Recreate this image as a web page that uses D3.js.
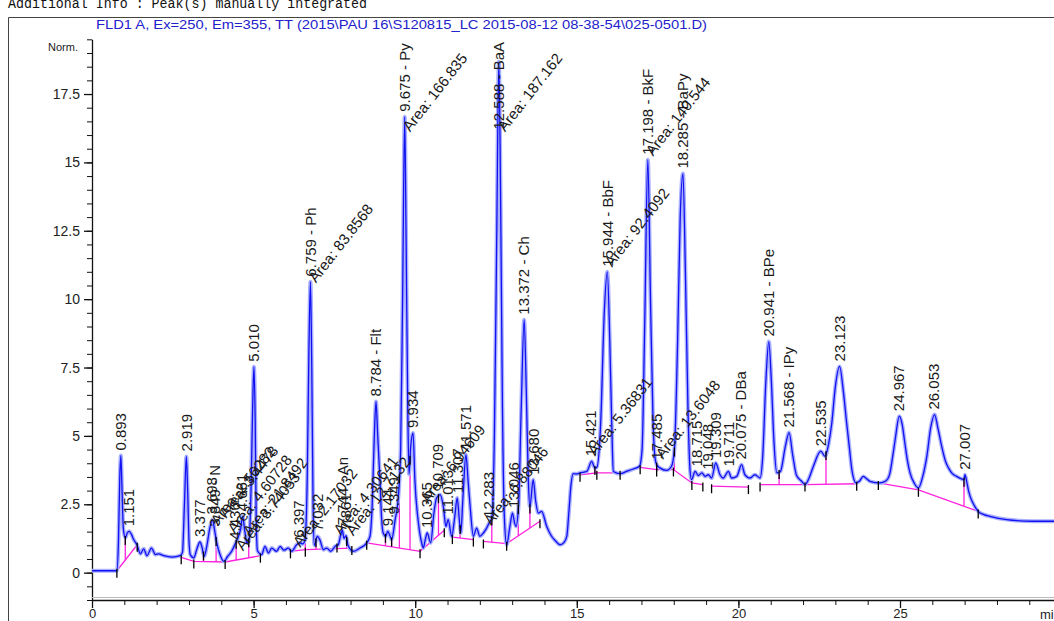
<!DOCTYPE html>
<html><head><meta charset="utf-8">
<script src="https://cdn.jsdelivr.net/npm/d3@7"></script>
<style>body{margin:0;background:#fff;overflow:hidden}svg{display:block}</style>
</head><body>
<svg id="c" width="1054" height="621"></svg>
<script>
// ---- data (time in min, signal in Norm.) ----
const headerText = "Additional Info : Peak(s) manually integrated";
const titleText = "FLD1 A, Ex=250, Em=355, TT (2015\\PAU 16\\S120815_LC 2015-08-12 08-38-54\\025-0501.D)";
const yMajorTicks = [0, 2.5, 5, 7.5, 10, 12.5, 15, 17.5];
const xMajorTicks = [0, 5, 10, 15, 20, 25];
const xUnitLabel = "min";
const yUnitLabel = "Norm.";

const trace = [[0,0.07],[0.5,0.07],[0.77,0.07],[0.82,1.2],[0.86,3.5],[0.893,4.28],[0.93,3.0],[0.97,1.6],[1.03,1.27],[1.09,1.45],[1.15,1.51],[1.22,1.40],[1.29,1.21],[1.39,1.02],[1.50,0.69],[1.60,0.87],[1.70,0.62],[1.84,0.90],[1.96,0.66],[2.06,0.69],[2.22,0.62],[2.48,0.57],[2.73,0.62],[2.80,0.75],[2.86,2.5],[2.919,4.25],[2.96,3.0],[3.00,1.2],[3.04,0.66],[3.15,0.54],[3.24,0.85],[3.34,1.12],[3.40,0.95],[3.47,0.60],[3.55,0.95],[3.64,1.6],[3.73,1.94],[3.80,1.5],[3.86,1.09],[3.95,0.7],[4.08,0.41],[4.20,0.6],[4.32,0.78],[4.42,1.02],[4.53,1.33],[4.60,1.6],[4.66,2.06],[4.72,1.6],[4.79,1.09],[4.86,1.2],[4.92,3.0],[4.97,6.0],[5.01,7.53],[5.05,5.5],[5.08,2.0],[5.12,0.80],[5.25,0.66],[5.35,0.96],[5.46,0.72],[5.56,0.90],[5.71,0.78],[5.82,0.96],[5.94,0.82],[6.07,0.90],[6.18,0.78],[6.33,1.02],[6.44,1.09],[6.52,1.05],[6.59,1.21],[6.66,3.5],[6.71,8.0],[6.759,10.64],[6.80,7.5],[6.84,2.5],[6.88,1.0],[6.97,1.33],[7.05,1.2],[7.16,0.84],[7.26,0.90],[7.39,0.78],[7.52,0.96],[7.62,1.02],[7.70,1.40],[7.744,1.55],[7.80,1.25],[7.86,1.35],[7.92,1.0],[8.09,0.78],[8.29,0.90],[8.50,1.09],[8.60,1.33],[8.67,2.5],[8.73,4.8],[8.787,6.26],[8.84,5.0],[8.91,3.40],[8.96,2.0],[9.01,1.45],[9.09,1.33],[9.15,1.51],[9.22,1.35],[9.27,1.21],[9.38,1.94],[9.48,2.79],[9.55,4.5],[9.61,10.0],[9.675,16.67],[9.72,12.0],[9.77,6.0],[9.81,3.6],[9.86,4.6],[9.934,5.11],[9.99,3.40],[10.10,1.82],[10.20,1.09],[10.25,0.90],[10.31,1.2],[10.37,1.45],[10.48,1.09],[10.58,2.18],[10.66,2.73],[10.77,2.85],[10.87,2.42],[10.95,1.69],[11.02,1.94],[11.13,1.33],[11.22,2.0],[11.30,2.73],[11.36,2.0],[11.41,1.45],[11.48,2.8],[11.57,4.31],[11.64,3.3],[11.70,2.42],[11.80,1.33],[11.90,1.63],[12.00,1.33],[12.11,1.45],[12.21,1.63],[12.29,1.82],[12.37,2.0],[12.45,5.0],[12.52,12.0],[12.588,18.68],[12.64,14.0],[12.70,6.0],[12.76,2.0],[12.83,1.02],[12.93,1.69],[13.01,2.18],[13.06,1.9],[13.12,1.69],[13.20,2.5],[13.28,6.0],[13.372,9.25],[13.44,6.5],[13.50,3.4],[13.55,2.42],[13.65,3.40],[13.73,2.6],[13.81,2.18],[13.91,2.24],[14.07,1.69],[14.22,1.33],[14.35,1.15],[14.48,1.02],[14.60,1.10],[14.69,1.33],[14.76,2.3],[14.82,3.2],[14.89,3.62],[15.0,3.61],[15.10,3.65],[15.31,3.70],[15.46,4.07],[15.56,3.83],[15.62,3.85],[15.74,5.5],[15.85,9.5],[15.944,11.0],[16.02,8.5],[16.08,5.5],[16.13,3.70],[16.34,3.62],[16.54,3.70],[16.75,3.79],[16.94,3.89],[17.02,4.5],[17.10,9.0],[17.198,15.1],[17.28,10.0],[17.36,5.5],[17.42,4.2],[17.47,3.95],[17.57,3.83],[17.78,3.74],[17.93,3.89],[18.02,4.5],[18.12,8.5],[18.20,13.0],[18.285,14.59],[18.36,11.0],[18.44,6.0],[18.50,3.8],[18.55,3.40],[18.66,3.70],[18.76,3.55],[18.87,3.65],[18.97,3.52],[19.07,3.58],[19.17,3.46],[19.30,4.01],[19.43,3.58],[19.53,3.46],[19.69,3.70],[19.79,3.46],[19.95,3.52],[20.10,3.95],[20.20,3.58],[20.36,3.46],[20.51,3.58],[20.67,3.46],[20.75,4.2],[20.85,7.0],[20.941,8.45],[21.02,7.0],[21.10,4.8],[21.19,3.65],[21.30,3.7],[21.45,4.6],[21.568,5.12],[21.68,4.3],[21.80,3.55],[21.95,3.35],[22.06,3.22],[22.20,3.5],[22.32,3.89],[22.55,4.44],[22.68,4.25],[22.79,4.7],[22.89,5.47],[23.00,6.8],[23.13,7.54],[23.25,6.6],[23.35,5.47],[23.44,4.5],[23.51,3.77],[23.64,3.28],[23.75,3.35],[23.86,3.52],[23.95,3.45],[24.07,3.34],[24.38,3.28],[24.56,3.35],[24.68,3.6],[24.78,4.3],[24.85,4.86],[24.98,5.72],[25.07,5.4],[25.15,4.74],[25.23,4.1],[25.31,3.65],[25.45,3.25],[25.57,3.10],[25.70,3.5],[25.83,4.25],[25.95,5.3],[26.07,5.78],[26.17,5.3],[26.29,4.62],[26.40,4.1],[26.50,3.83],[26.62,3.62],[26.75,3.52],[26.90,3.43],[26.98,3.40],[27.01,3.58],[27.06,3.35],[27.12,3.0],[27.17,2.79],[27.30,2.45],[27.42,2.24],[27.60,2.12],[27.78,2.06],[28.30,1.94],[29.12,1.88],[29.8,1.88]];

const baselineSegments = [
  [[0.77,0.07],[1.40,1.02]],
  [[2.76,0.56],[3.15,0.41],[4.12,0.39],[5.21,0.62]],
  [[6.14,0.78],[6.60,0.84],[8.04,0.90]],
  [[8.50,1.09],[10.15,0.78],[10.90,1.55]],
  [[11.15,1.30],[11.80,1.21]],
  [[12.11,1.14],[12.83,1.06],[13.86,1.88]],
  [[15.10,3.58],[15.62,3.65],[16.34,3.65]],
  [[16.96,3.85],[17.47,3.77],[17.99,3.77],[18.56,3.28],[18.90,3.22]],
  [[19.17,3.16],[20.31,3.13]],
  [[20.67,3.22],[22.06,3.22],[23.66,3.25]],
  [[24.33,3.28],[25.57,3.03],[27.42,2.24]]
];
const dropTimes = [1.03,3.45,3.84,4.46,4.85,6.60,6.93,7.58,7.88,9.08,9.27,9.51,9.84,10.72,10.95,11.39,12.37,13.19,13.55,15.56,17.47,18.02,21.26,22.71,26.98];

// vertical peak labels: [time, apex signal, text]
const peakLabels = [
  [0.893,4.28,"0.893"],[1.151,1.51,"1.151"],[2.919,4.25,"2.919"],[3.34,1.12,"3.377"],
  [3.70,1.94,"3.698"],[3.80,1.50,"3.849 - N"],[4.42,1.02,"4.436"],[4.62,2.06,"4.661"],
  [5.010,7.53,"5.010"],[6.397,1.09,"6.397"],[6.759,10.64,"6.759 - Ph"],[7.00,1.33,"7.032"],
  [7.744,1.55,"7.744 - An"],[7.861,1.35,"7.861"],[8.784,6.26,"8.784 - Flt"],[9.144,1.51,"9.144"],
  [9.349,1.94,"9.349"],[9.675,16.67,"9.675 - Py"],[9.934,5.11,"9.934"],[10.365,1.45,"10.365"],
  [10.709,2.85,"10.709"],[11.013,1.94,"11.013"],[11.307,2.73,"11.307"],[11.571,4.31,"11.571"],
  [12.283,1.82,"12.283"],[12.588,18.68,"12.588 - BaA"],[13.046,2.18,"13.046"],[13.372,9.25,"13.372 - Ch"],
  [13.680,3.40,"13.680"],[15.421,4.07,"15.421"],[15.944,11.0,"15.944 - BbF"],[17.198,15.1,"17.198 - BkF"],
  [17.485,3.95,"17.485"],[18.285,14.59,"18.285 - BaPy"],[18.715,3.70,"18.715"],[19.048,3.58,"19.048"],
  [19.309,4.01,"19.309"],[19.711,3.70,"19.711"],[20.075,3.95,"20.075 - DBa"],[20.941,8.45,"20.941 - BPe"],
  [21.568,5.12,"21.568 - IPy"],[22.535,4.44,"22.535"],[23.123,7.54,"23.123"],[24.967,5.72,"24.967"],
  [26.053,5.78,"26.053"],[27.007,3.58,"27.007"]
];
// slanted area labels: [start time, start signal, text]
const areaLabels = [
  [3.90,1.70,"Area: 2.56282"],[4.15,1.97,"Area: 3.4478"],[4.42,1.40,"Area: 4.60728"],
  [4.90,1.30,"Area: 21.8492"],[4.67,0.77,"Area: 3.74053"],[6.44,0.90,"Area: 2.17032"],
  [6.93,10.57,"Area: 83.8568"],[7.70,1.35,"Area: 4.30641"],[8.08,1.32,"Area: 12.7132"],
  [9.84,16.09,"Area: 166.835"],[10.40,2.50,"Area: 6.94609"],[12.35,1.70,"Area: 6.88046"],
  [12.78,16.09,"Area: 187.162"],[15.56,4.24,"Area: 5.36831"],[16.09,11.15,"Area: 92.4092"],
  [17.36,15.21,"Area: 140.544"],[17.67,4.13,"Area: 13.6048"]
];

// ---- drawing ----
const svg = d3.select("#c");
const x = d3.scaleLinear().domain([0, 30]).range([92, 92 + 30 * 32.32]);
const y = d3.scaleLinear().domain([-1, 19.5]).range([600, 600 - 20.5 * 27.35]);
const FONT = "'Liberation Sans', Arial, sans-serif";

// header & frame
svg.append("text").attr("x", 8).attr("y", 8)
  .attr("font-family", "'Liberation Mono', 'Courier New', monospace").attr("font-size", 14)
  .attr("textLength", 359).attr("lengthAdjust", "spacingAndGlyphs")
  .attr("fill", "#111").text(headerText);
svg.append("path").attr("d", "M8.5,640 V17.5 H1060").attr("fill", "none").attr("stroke", "#444").attr("stroke-width", 1);
svg.append("text").attr("x", 96).attr("y", 29)
  .attr("font-family", FONT).attr("font-size", 13)
  .attr("textLength", 611).attr("lengthAdjust", "spacingAndGlyphs")
  .attr("fill", "#2222cc").text(titleText);

// axes
const yMinor = d3.range(-1, 19.51, 0.5);
const xMinor = d3.range(0, 31, 1);
svg.append("g").attr("transform", "translate(92,0)")
  .call(d3.axisLeft(y).tickValues(yMinor).tickSize(5).tickFormat("").tickSizeOuter(0))
  .call(g => g.selectAll("line").attr("stroke", "#111"))
  .call(g => g.select(".domain").attr("stroke", "#111").attr("stroke-width", 1.3));
svg.append("g").attr("transform", "translate(92,0)")
  .call(d3.axisLeft(y).tickValues(yMajorTicks).tickSize(8).tickPadding(4).tickFormat(d => String(d)).tickSizeOuter(0))
  .call(g => g.select(".domain").remove())
  .call(g => g.selectAll("line").attr("stroke", "#111").attr("stroke-width", 1.3))
  .call(g => g.selectAll("text").attr("font-family", FONT).attr("font-size", 14).attr("fill", "#222"));
svg.append("line").attr("x1", 92).attr("x2", 1054).attr("y1", 597.5).attr("y2", 597.5).attr("stroke", "#bbb");
svg.append("g").attr("transform", "translate(0,600)")
  .call(d3.axisBottom(x).tickValues(xMinor).tickSize(5).tickFormat("").tickSizeOuter(0))
  .call(g => g.selectAll("line").attr("stroke", "#111"))
  .call(g => g.select(".domain").attr("stroke", "#111").attr("stroke-width", 1.3));
svg.append("g").attr("transform", "translate(0,600)")
  .call(d3.axisBottom(x).tickValues(xMajorTicks).tickSize(8).tickPadding(1).tickFormat(d => String(d)).tickSizeOuter(0))
  .call(g => g.select(".domain").remove())
  .call(g => g.selectAll("line").attr("stroke", "#111").attr("stroke-width", 1.3))
  .call(g => g.selectAll("text").attr("font-family", FONT).attr("font-size", 13).attr("fill", "#222"));
svg.append("text").attr("x", 1040).attr("y", 619).attr("font-family", FONT).attr("font-size", 13)
  .attr("fill", "#222").text(xUnitLabel);
svg.append("text").attr("x", 78).attr("y", 51).attr("text-anchor", "end").attr("font-family", FONT)
  .attr("font-size", 11).attr("fill", "#222").text(yUnitLabel);

// helpers
function traceAt(t) {
  const i = d3.bisector(d => d[0]).left(trace, t);
  if (i <= 0) return trace[0][1];
  if (i >= trace.length) return trace[trace.length - 1][1];
  const a = trace[i - 1], b = trace[i];
  return a[1] + (b[1] - a[1]) * (t - a[0]) / (b[0] - a[0]);
}
function baseAt(t) {
  for (const seg of baselineSegments) {
    if (t >= seg[0][0] && t <= seg[seg.length - 1][0]) {
      for (let k = 1; k < seg.length; k++) {
        if (t <= seg[k][0]) {
          const a = seg[k - 1], b = seg[k];
          return a[1] + (b[1] - a[1]) * (t - a[0]) / (b[0] - a[0]);
        }
      }
    }
  }
  return null;
}

const plot = svg.append("g");
const line = d3.line().x(d => x(d[0])).y(d => y(d[1])).curve(d3.curveMonotoneX);

// baselines
plot.selectAll(".bl").data(baselineSegments).join("path")
  .attr("d", d3.line().x(d => x(d[0])).y(d => y(d[1])))
  .attr("fill", "none").attr("stroke", "#ff22dd").attr("stroke-width", 1.3);
// drop lines
const drops = dropTimes.map(t => ({t, b: baseAt(t), v: traceAt(t)})).filter(d => d.b !== null);
plot.selectAll(".dl").data(drops).join("line")
  .attr("x1", d => x(d.t)).attr("x2", d => x(d.t))
  .attr("y1", d => y(d.b)).attr("y2", d => y(d.v))
  .attr("stroke", "#ff22dd").attr("stroke-width", 1.3);

// trace
plot.append("path").datum(trace).attr("d", line).attr("fill", "none")
  .attr("stroke", "#aab0ff").attr("stroke-width", 4).attr("stroke-linejoin", "round");
plot.append("path").datum(trace).attr("d", line).attr("fill", "none")
  .attr("stroke", "#1010f0").attr("stroke-width", 1.3).attr("stroke-linejoin", "round");

// integration event ticks
const events = [];
baselineSegments.forEach(seg => seg.forEach(p => events.push(p)));
drops.forEach(d => events.push([d.t, d.v]));
plot.selectAll(".ev").data(events).join("line")
  .attr("x1", d => x(d[0])).attr("x2", d => x(d[0]))
  .attr("y1", d => y(d[1]) - 2).attr("y2", d => y(d[1]) + 7)
  .attr("stroke", "#000").attr("stroke-width", 1.3);

// labels
const lab = svg.append("g").attr("font-family", FONT).attr("font-size", 15).attr("fill", "#1a1a1a");
lab.selectAll(".pl").data(peakLabels).join("text")
  .text(d => d[2])
  .each(function(d) {
    const len = this.getComputedTextLength();
    let sy = y(d[1]) - 5;
    if (sy - len < 42) sy = 42 + len;
    d3.select(this).attr("transform", `translate(${x(d[0])},${sy}) rotate(-90)`).attr("dy", "0.35em");
  });
lab.selectAll(".al").data(areaLabels).join("text")
  .text(d => d[2])
  .attr("transform", d => `translate(${x(d[0])},${y(d[1])}) rotate(-52)`);
</script>
</body></html>
